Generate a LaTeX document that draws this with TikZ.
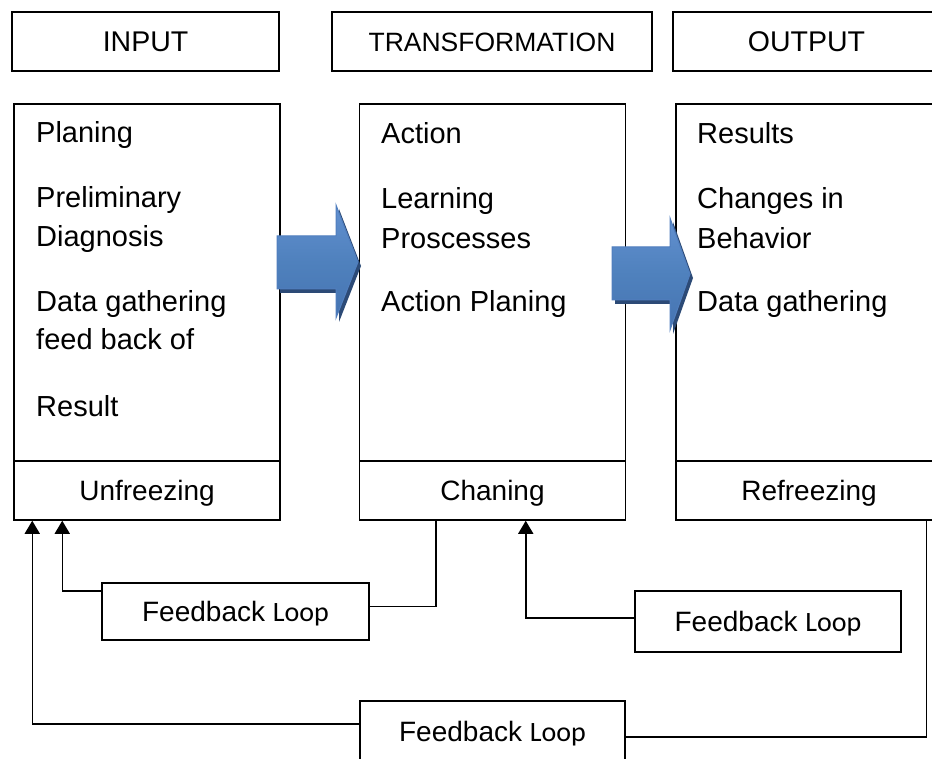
\documentclass[tikz,border=0pt]{standalone}
\usepackage{fontspec}
\setmainfont{Liberation Sans}
\newfontfamily\loopfont{Carlito}
\usetikzlibrary{arrows.meta,shadings}
\definecolor{artop}{RGB}{98,144,208}
\definecolor{armid}{RGB}{79,129,189}
\definecolor{arbot}{RGB}{70,116,178}
\definecolor{arline}{RGB}{80,126,190}
\definecolor{arshadow}{RGB}{44,74,118}
\newcommand{\bodyfont}{\fontsize{29}{35}\selectfont}
\newcommand{\stagefont}{\fontsize{28}{34}\selectfont}
\begin{document}
\begin{tikzpicture}[x=1pt,y=-1pt,
  hdr/.style={draw=black, line width=1.5pt, inner sep=0pt, minimum height=59pt, text height=20pt, text depth=0pt},
  panel/.style={draw=black, line width=1.5pt, inner sep=0pt, minimum width=266pt, minimum height=357pt},
  stage/.style={draw=black, line width=1.5pt, inner sep=0pt, minimum width=266pt, minimum height=59pt, font=\stagefont, text height=20pt, text depth=0pt},
  item/.style={anchor=base west, inner sep=0pt, font=\bodyfont},
  fb/.style={draw=black, line width=1.5pt, inner sep=0pt, font=\stagefont, text height=20pt, text depth=0pt},
  conn/.style={line width=1.5pt},
  tip/.style={-{Triangle[length=13pt,width=15pt]}},
  bigarrow/.style={top color=artop, bottom color=arbot, middle color=armid, draw=arline, line width=1pt},
  arrowshadow/.style={fill=arshadow}
]
\useasboundingbox (0,0) rectangle (932,759);
\fill[white] (0,0) rectangle (932,759);
\clip (0,0) rectangle (932,759);

% header boxes
\node[hdr, minimum width=267pt, font=\fontsize{28.5}{34}\selectfont] (hin) at (145.5,41.5) {INPUT};
\node[hdr, minimum width=320pt, font=\fontsize{26.5}{32}\selectfont] (htr) at (492,41.5) {TRANSFORMATION};
\node[hdr, minimum width=267pt, font=\fontsize{28.5}{34}\selectfont] (hout) at (806.5,41.5) {OUTPUT};

% main panels
\node[panel] (pin) at (147,282.5) {};
\node[stage] (sin) at (147,490.5) {Unfreezing};
\node[panel] (ptr) at (492.5,282.5) {};
\node[stage] (str) at (492.5,490.5) {Chaning};
\node[panel] (pout) at (809,282.5) {};
\node[stage] (sout) at (809,490.5) {Refreezing};

% items
\node[item] (i1) at (36,143) {Planing};
\node[item] (i2) at (36,208) {Preliminary};
\node[item] (i3) at (36,247) {Diagnosis};
\node[item] (i4) at (36,312) {Data gathering};
\node[item] (i5) at (36,350) {feed back of};
\node[item] (i6) at (36,416) {Result};

\node[item] (t1) at (381,144) {Action};
\node[item] (t2) at (381,209) {Learning};
\node[item] (t3) at (381,249) {Proscesses};
\node[item] (t4) at (381,312) {Action Planing};

\node[item] (o1) at (697,144) {Results};
\node[item] (o2) at (697,209) {Changes in};
\node[item] (o3) at (697,249) {Behavior};
\node[item] (o4) at (697,312) {Data gathering};

% big blue arrows
\fill[arrowshadow] (280,240) -- (339,240) -- (339,209) -- (361,266) -- (339,322) -- (339,293) -- (280,293) -- cycle;
\path[bigarrow] (277,236) -- (336,236) -- (336,205) -- (358,262) -- (336,318) -- (336,289) -- (277,289) -- cycle;
\fill[arrowshadow] (615,251) -- (673,251) -- (673,222) -- (693,278) -- (673,334) -- (673,304) -- (615,304) -- cycle;
\path[bigarrow] (612,247) -- (670,247) -- (670,218) -- (690,274) -- (670,330) -- (670,300) -- (612,300) -- cycle;

% feedback boxes
\node[fb, minimum width=267pt, minimum height=57pt] (fb1) at (235.5,611.5) {Feedback {\loopfont Loop}};
\node[fb, minimum width=266pt, minimum height=61pt] (fb2) at (768,621.5) {Feedback {\loopfont Loop}};
\node[fb, minimum width=265pt, minimum height=60pt] (fb3) at (492.5,731) {Feedback {\loopfont Loop}};

% connectors
\draw[conn] ([xshift=77pt]str.south west) |- ([yshift=5pt]fb1.east);
\draw[conn, tip] ([yshift=20.5pt]fb1.west) -| ([xshift=49pt]sin.south west);
\draw[conn, tip] ([yshift=3.5pt]fb2.west) -| ([xshift=167pt]str.south west);
\draw[conn] ([xshift=251pt]sout.south west) |- ([yshift=-6pt]fb3.east);
\draw[conn, tip] ([yshift=7pt]fb3.west) -| ([xshift=19pt]sin.south west);
\end{tikzpicture}
\end{document}
